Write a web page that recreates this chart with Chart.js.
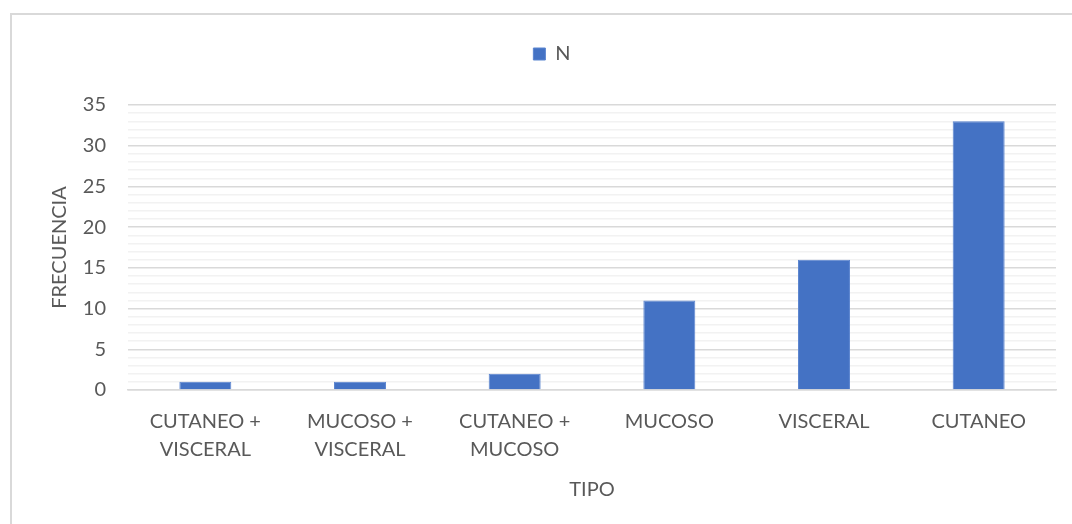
<!DOCTYPE html>
<html lang="es">
<head>
    <meta charset="UTF-8">
    <script src="https://cdn.jsdelivr.net/npm/chart.js"></script>
    <title>Frecuencia por tipo</title>
    <style>
        body {
            margin: 0;
            background: #ffffff;
        }

        .frame {
            position: absolute;
            left: 10px;
            top: 13px;
            width: 1080px;
            height: 540px;
            border-left: 2px solid #d9d9d9;
            border-top: 2px solid #d9d9d9;
        }

        .wrap {
            position: absolute;
            left: 0;
            top: 0;
            width: 1072px;
            height: 524px;
        }
    </style>
</head>
<body>

    <div class="frame"></div>
    <div class="wrap">
        <canvas id="tipoChart"></canvas>
    </div>

    <script>
        // categories and values
        const tipos = [
            ["CUTANEO +", "VISCERAL"],
            ["MUCOSO +", "VISCERAL"],
            ["CUTANEO +", "MUCOSO"],
            "MUCOSO",
            "VISCERAL",
            "CUTANEO"
        ];
        const frecuencia = [1, 1, 2, 11, 16, 33];
        const yTicks = [0, 5, 10, 15, 20, 25, 30, 35];

        const fontName = "Lato, 'Open Sans', sans-serif";
        const grey = "#595959";

        const ctx = document.getElementById("tipoChart").getContext("2d");
        new Chart(ctx, {
            type: "bar",
            data: {
                labels: tipos,
                datasets: [{
                    label: "N",
                    data: frecuencia,
                    backgroundColor: "#4472c4",
                    borderColor: "#5b85d0",
                    borderWidth: 1,
                    categoryPercentage: 0.336,
                    barPercentage: 1
                }]
            },
            options: {
                responsive: true,
                maintainAspectRatio: false,
                animation: false,
                layout: {
                    padding: { left: 48, right: 16, top: 16, bottom: 22 }
                },
                plugins: {
                    tooltip: { enabled: false },
                    legend: {
                        position: "top",
                        weight: 3000,
                        labels: {
                            boxWidth: 12,
                            boxHeight: 12,
                            padding: 28,
                            color: grey,
                            font: { family: fontName, size: 20 }
                        }
                    },
                    // empty title used only as a spacer under the legend
                    title: {
                        display: true,
                        text: "",
                        font: { size: 10 },
                        padding: { top: 10, bottom: 9 }
                    }
                },
                scales: {
                    x: {
                        grid: { display: false, drawTicks: false },
                        border: { display: true, color: "#d9d9d9", width: 1.5 },
                        ticks: {
                            color: grey,
                            padding: 18,
                            maxRotation: 0,
                            font: { family: fontName, size: 20, lineHeight: 1.4 }
                        },
                        title: {
                            display: true,
                            text: "TIPO",
                            color: grey,
                            font: { family: fontName, size: 20 },
                            padding: { top: -4, bottom: 0 }
                        }
                    },
                    y: {
                        min: 0,
                        max: 35,
                        afterFit: function (scale) {
                            scale.width = 80;
                        },
                        afterBuildTicks: function (scale) {
                            const all = [];
                            for (let v = 0; v <= 35; v++) all.push({ value: v });
                            scale.ticks = all;
                        },
                        grid: {
                            drawTicks: false,
                            color: function (c) {
                                return yTicks.includes(c.tick.value) ? "#d9d9d9" : "#f2f2f2";
                            },
                            lineWidth: 1.5
                        },
                        border: { display: false },
                        ticks: {
                            autoSkip: false,
                            color: grey,
                            padding: 22,
                            font: { family: fontName, size: 20 },
                            callback: function (v) {
                                return yTicks.includes(v) ? String(v) : "";
                            }
                        },
                        title: {
                            display: true,
                            text: "FRECUENCIA",
                            color: grey,
                            font: { family: fontName, size: 20 },
                            padding: 0
                        }
                    }
                }
            }
        });
    </script>

</body>
</html>
